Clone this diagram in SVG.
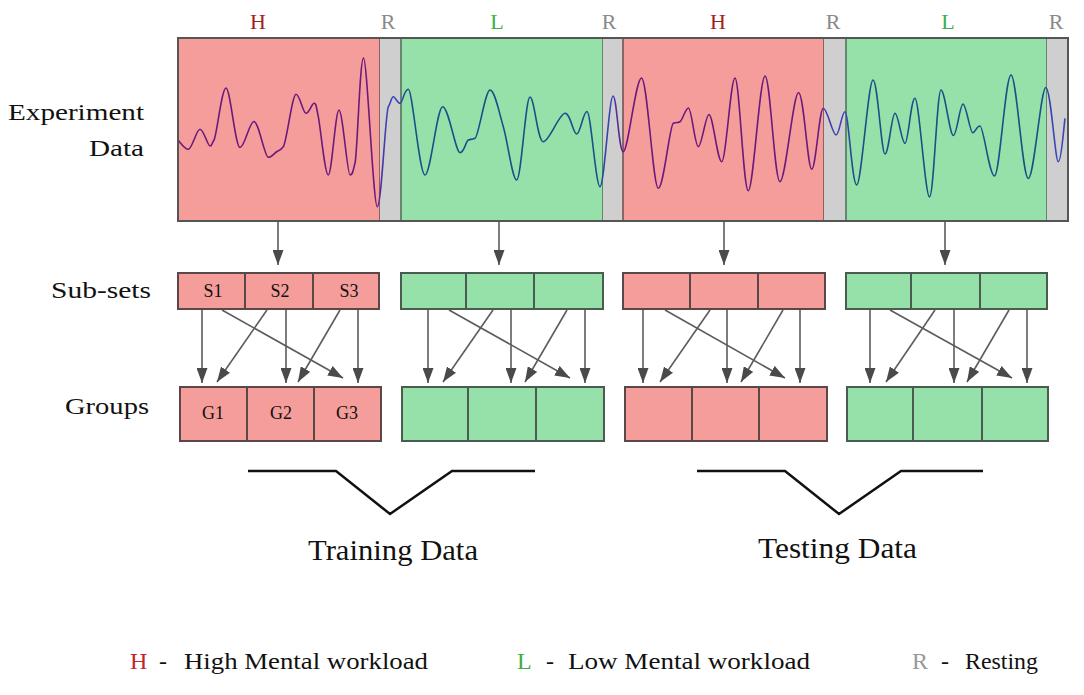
<svg xmlns="http://www.w3.org/2000/svg" width="1084" height="695" viewBox="0 0 1084 695">
<style>
text{font-family:"Liberation Serif","Times New Roman",serif;fill:#111}
.lbl{font-size:24px}
.top{font-size:22px;text-anchor:middle}
.cell{font-size:18px;text-anchor:middle}
.red{fill:#f59d9a;stroke:#6e4c4c;stroke-width:1.5}
.grn{fill:#96e0a9;stroke:#4f6b55;stroke-width:1.5}
.gry{fill:#cfcfcf;stroke:none}
.rc{fill:#f59d9a;stroke:#5a4848;stroke-width:2}
.gc{fill:#96e0a9;stroke:#4a5c4f;stroke-width:2}
.arr{stroke:#5c5c5c;stroke-width:1.6;fill:none;marker-end:url(#ah)}
.brk{stroke:#111;stroke-width:2.5;fill:none;stroke-linejoin:miter}
.leg{font-size:24px}
</style>
<defs>
<marker id="ah" markerUnits="userSpaceOnUse" markerWidth="15" markerHeight="11" refX="15" refY="5.5" orient="auto">
<path d="M0,0 L15,5.5 L0,11 z" fill="#4a4a4a"/>
</marker>
<linearGradient id="wg" gradientUnits="userSpaceOnUse" x1="178" y1="0" x2="1068" y2="0">
<stop offset="0" stop-color="#6a1a7c"/>
<stop offset="0.222" stop-color="#6a1a7c"/>
<stop offset="0.235" stop-color="#3c44b8"/>
<stop offset="0.25" stop-color="#3c44b8"/>
<stop offset="0.26" stop-color="#1c4e88"/>
<stop offset="0.472" stop-color="#1c4e88"/>
<stop offset="0.488" stop-color="#3c44b8"/>
<stop offset="0.5" stop-color="#6a1a7c"/>
<stop offset="0.72" stop-color="#6a1a7c"/>
<stop offset="0.737" stop-color="#3c44b8"/>
<stop offset="0.75" stop-color="#3c44b8"/>
<stop offset="0.76" stop-color="#1c4e88"/>
<stop offset="0.972" stop-color="#1c4e88"/>
<stop offset="0.985" stop-color="#3c44b8"/>
<stop offset="1" stop-color="#3c44b8"/>
</linearGradient>
</defs>
<rect width="1084" height="695" fill="#ffffff"/>

<g id="row-labels">
<text class="lbl" x="144" y="120" text-anchor="end" textLength="136" lengthAdjust="spacingAndGlyphs">Experiment</text>
<text class="lbl" x="144" y="156" text-anchor="end" textLength="55" lengthAdjust="spacingAndGlyphs">Data</text>
<text class="lbl" x="151" y="298" text-anchor="end" textLength="100" lengthAdjust="spacingAndGlyphs">Sub-sets</text>
<text class="lbl" x="149" y="414" text-anchor="end" textLength="84" lengthAdjust="spacingAndGlyphs">Groups</text>
</g>

<g id="phase-labels">
<text class="top" x="258" y="29" style="fill:#a81c1c">H</text>
<text class="top" x="388" y="29" style="fill:#8a8a8a">R</text>
<text class="top" x="497" y="29" style="fill:#3cb043">L</text>
<text class="top" x="609" y="29" style="fill:#8a8a8a">R</text>
<text class="top" x="718" y="29" style="fill:#a81c1c">H</text>
<text class="top" x="833" y="29" style="fill:#8a8a8a">R</text>
<text class="top" x="948" y="29" style="fill:#3cb043">L</text>
<text class="top" x="1056" y="29" style="fill:#8a8a8a">R</text>
</g>

<g id="experiment-data">
<rect class="red" x="178" y="38" width="202" height="183"/>
<rect class="gry" x="380" y="38" width="21" height="183"/>
<rect class="grn" x="401" y="38" width="202" height="183"/>
<rect class="gry" x="603" y="38" width="20" height="183"/>
<rect class="red" x="623" y="38" width="201" height="183"/>
<rect class="gry" x="824" y="38" width="22" height="183"/>
<rect class="grn" x="846" y="38" width="201" height="183"/>
<rect class="gry" x="1047" y="38" width="21" height="183"/>
<path fill="none" stroke="url(#wg)" stroke-width="1.6" stroke-linejoin="round" d="M178,140 C179.7,141.6 184.6,149.3 188.3,149.3 C192,149.3 196.4,129.3 200,129.3 C203.6,129.3 207.7,146 210,146 C212.3,146 211.3,144 214,140 C216.7,136 221.7,88 226,88 C230.3,88 235.3,147.5 240,147.5 C244.7,147.5 249.3,121.5 254,121.5 C258.7,121.5 264.5,157.3 268.3,157.3 C272.1,157.3 274.2,153.2 276.7,151.7 C279.2,150.2 280.1,150.7 283.3,146.7 C286.5,142.7 292.2,94.3 296,94.3 C299.8,94.3 303,113.3 306,113.3 C309,113.3 312,103.3 314,103.3 C316.1,103.3 315.9,104.8 318.3,116.7 C320.7,128.7 324.9,175 328.3,175 C331.8,175 335.4,110 339,110 C342.6,110 347.3,175 350,175 C352.7,175 352.8,171.3 355,163.3 C357.3,155.3 359.8,58 363.5,58 C367.2,58 373.2,206.7 377.3,206.7 C381.4,206.7 385.6,110.7 388.3,106.7 C391,102.7 391.4,96.7 393.3,96.7 C395.3,96.7 397.5,103.3 400,103.3 C402.5,103.3 404.1,89.3 408.3,89.3 C412.5,89.3 419.3,175 425,175 C430.7,175 436.9,106.7 442.7,106.7 C448.5,106.7 455.7,152.7 460,152.7 C464.3,152.7 465.8,141 468.3,140 C470.8,139 471.4,139.8 475,138.3 C478.6,136.8 485.3,90 490,90 C494.7,90 498.9,111.7 503.3,126.7 C507.8,141.7 512.3,180 516.7,180 C521.2,180 525.6,97 530,97 C534.4,97 537.5,141.7 543.3,141.7 C549.1,141.7 559.4,113.3 565,113.3 C570.6,113.3 573,134 576.7,134 C580.4,134 583.1,111.5 587,111.5 C590.9,111.5 595.7,186.7 600,186.7 C604.3,186.7 609.1,96 613,96 C616.9,96 618.6,151.7 623.3,151.7 C628.1,151.7 635.7,78 641.5,78 C647.3,78 653,188.3 658.3,188.3 C663.6,188.3 669.7,124.8 673.3,123.3 C676.9,121.8 677.5,123.2 680,121.7 C682.5,120.2 685.5,108 688.5,108 C691.6,108 694.9,146.7 698.3,146.7 C701.7,146.7 705.6,114.5 709,114.5 C712.9,114.5 717.4,161.7 721.7,161.7 C726,161.7 730.6,78 735,78 C739.4,78 743.3,190.7 748.3,190.7 C753.3,190.7 759.7,76 765,76 C770.3,76 774.4,181.7 780,181.7 C785.6,181.7 793.2,92.5 798.5,92.5 C803.8,92.5 807.6,169.3 811.7,169.3 C815.8,169.3 819.3,108.3 823.3,108.3 C827.4,108.3 832.4,135 836,135 C839.6,135 841.6,111.7 845,111.7 C848.5,111.7 852,185 856.7,185 C861.4,185 868.3,80 873,80 C877.7,80 881.3,154 885,154 C888.7,154 891.7,113.3 895,113.3 C898.3,113.3 901.7,143.3 905,143.3 C908.3,143.3 910.9,98.3 915,98.3 C919.1,98.3 925.2,197 929.5,197 C933.8,197 937,90 941,90 C945,90 949.6,135.5 953.3,135.5 C957,135.5 959.8,104 963,104 C966.2,104 969.9,132.7 972.7,132.7 C975.5,132.7 976.4,126 980,126 C983.6,126 989.3,176 994.5,176 C999.7,176 1005.4,75 1011,75 C1016.6,75 1022.5,178.5 1028.3,178.5 C1034.1,178.5 1040.8,87.5 1045.8,87.5 C1050.8,87.5 1055.1,161.7 1058.3,161.7 C1061.5,161.7 1063.9,125.5 1065,118.3"/>
<rect x="178" y="38" width="890" height="183" fill="none" stroke="#555" stroke-width="2"/>
</g>

<g id="subsets-train-high">
<rect class="rc" x="178" y="273" width="67" height="36"/>
<rect class="rc" x="245" y="273" width="68" height="36"/>
<rect class="rc" x="313" y="273" width="66" height="36"/>
<text class="cell" x="213" y="297">S1</text>
<text class="cell" x="280" y="297">S2</text>
<text class="cell" x="349" y="297">S3</text>
</g>
<g id="subsets-train-low">
<rect class="gc" x="401" y="273" width="65" height="36"/>
<rect class="gc" x="466" y="273" width="68" height="36"/>
<rect class="gc" x="534" y="273" width="69" height="36"/>
</g>
<g id="subsets-test-high">
<rect class="rc" x="623" y="273" width="67" height="36"/>
<rect class="rc" x="690" y="273" width="68" height="36"/>
<rect class="rc" x="758" y="273" width="67" height="36"/>
</g>
<g id="subsets-test-low">
<rect class="gc" x="846" y="273" width="65" height="36"/>
<rect class="gc" x="911" y="273" width="69" height="36"/>
<rect class="gc" x="980" y="273" width="67" height="36"/>
</g>

<g id="groups-train-high">
<rect class="rc" x="180" y="387" width="67" height="54"/>
<rect class="rc" x="247" y="387" width="67" height="54"/>
<rect class="rc" x="314" y="387" width="67" height="54"/>
<text class="cell" x="213" y="419">G1</text>
<text class="cell" x="281" y="419">G2</text>
<text class="cell" x="347" y="419">G3</text>
</g>
<g id="groups-train-low">
<rect class="gc" x="402" y="387" width="66" height="54"/>
<rect class="gc" x="468" y="387" width="68" height="54"/>
<rect class="gc" x="536" y="387" width="68" height="54"/>
</g>
<g id="groups-test-high">
<rect class="rc" x="625" y="387" width="67" height="54"/>
<rect class="rc" x="692" y="387" width="67" height="54"/>
<rect class="rc" x="759" y="387" width="68" height="54"/>
</g>
<g id="groups-test-low">
<rect class="gc" x="847" y="387" width="66" height="54"/>
<rect class="gc" x="913" y="387" width="69" height="54"/>
<rect class="gc" x="982" y="387" width="66" height="54"/>
</g>

<g id="connectors">
<line class="arr" x1="278" y1="222" x2="278" y2="265"/>
<line class="arr" x1="499" y1="222" x2="499" y2="265"/>
<line class="arr" x1="724" y1="222" x2="724" y2="265"/>
<line class="arr" x1="945" y1="222" x2="945" y2="265"/>

<line class="arr" x1="202" y1="310" x2="202" y2="383"/>
<line class="arr" x1="222" y1="310" x2="343" y2="378"/>
<line class="arr" x1="267" y1="310" x2="217" y2="382"/>
<line class="arr" x1="286" y1="310" x2="286" y2="383"/>
<line class="arr" x1="340" y1="310" x2="298" y2="382"/>
<line class="arr" x1="358" y1="310" x2="358" y2="383"/>

<line class="arr" x1="428" y1="310" x2="428" y2="383"/>
<line class="arr" x1="449" y1="310" x2="570" y2="378"/>
<line class="arr" x1="493" y1="310" x2="443" y2="382"/>
<line class="arr" x1="511" y1="310" x2="511" y2="383"/>
<line class="arr" x1="567" y1="310" x2="525" y2="382"/>
<line class="arr" x1="585" y1="310" x2="585" y2="383"/>

<line class="arr" x1="643" y1="310" x2="643" y2="383"/>
<line class="arr" x1="665" y1="310" x2="785" y2="378"/>
<line class="arr" x1="710" y1="310" x2="660" y2="382"/>
<line class="arr" x1="727" y1="310" x2="727" y2="383"/>
<line class="arr" x1="783" y1="310" x2="741" y2="382"/>
<line class="arr" x1="800" y1="310" x2="800" y2="383"/>

<line class="arr" x1="870" y1="310" x2="870" y2="383"/>
<line class="arr" x1="890" y1="310" x2="1012" y2="378"/>
<line class="arr" x1="935" y1="310" x2="886" y2="382"/>
<line class="arr" x1="954" y1="310" x2="954" y2="383"/>
<line class="arr" x1="1009" y1="310" x2="967" y2="382"/>
<line class="arr" x1="1027" y1="310" x2="1027" y2="383"/>
</g>

<g id="training-data">
<polyline class="brk" points="248,471 336,471 390,514 452,471 535,471"/>
<text x="308" y="560" style="font-size:29px" textLength="170" lengthAdjust="spacingAndGlyphs">Training Data</text>
</g>
<g id="testing-data">
<polyline class="brk" points="697,471 785,471 839,514 901,471 983,471"/>
<text x="758" y="558" style="font-size:29px" textLength="159" lengthAdjust="spacingAndGlyphs">Testing Data</text>
</g>

<g id="legend">
<text class="leg" x="130" y="669" style="fill:#c0262d">H</text>
<text class="leg" x="159" y="669">-</text>
<text class="leg" x="184" y="669" textLength="244" lengthAdjust="spacingAndGlyphs">High Mental workload</text>
<text class="leg" x="517" y="669" style="fill:#3cb043">L</text>
<text class="leg" x="546" y="669">-</text>
<text class="leg" x="568" y="669" textLength="242" lengthAdjust="spacingAndGlyphs">Low Mental workload</text>
<text class="leg" x="912" y="669" style="fill:#999999">R</text>
<text class="leg" x="941" y="669">-</text>
<text class="leg" x="965" y="669" textLength="73" lengthAdjust="spacingAndGlyphs">Resting</text>
</g>
</svg>
